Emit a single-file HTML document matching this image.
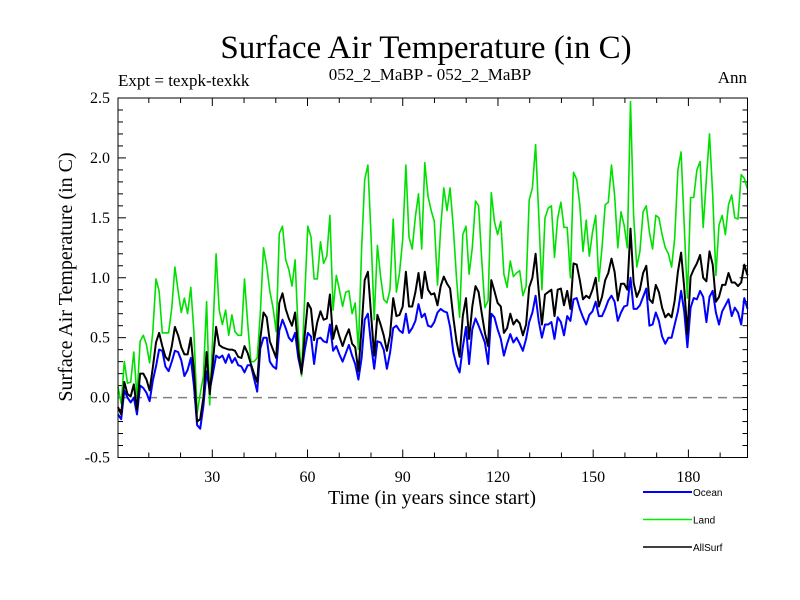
<!DOCTYPE html>
<html><head><meta charset="utf-8"><style>
body{margin:0;background:#fff}
svg{display:block}
text{font-family:"Liberation Serif",serif;fill:#000}
</style></head><body>
<svg id="chart" width="800" height="600" viewBox="0 0 800 600">
<text x="426" y="58" font-size="33" text-anchor="middle">Surface Air Temperature (in C)</text>
<text x="118" y="86" font-size="17">Expt = texpk-texkk</text>
<text x="430" y="80" font-size="17" text-anchor="middle">052_2_MaBP - 052_2_MaBP</text>
<text x="747" y="83" font-size="17" text-anchor="end">Ann</text>
<text transform="translate(72,277) rotate(-90)" font-size="20" text-anchor="middle">Surface Air Temperature (in C)</text>
<text x="432" y="504" font-size="20" text-anchor="middle">Time (in years since start)</text>
<g id="axes"></g>
<g id="series"></g>
<rect x="118" y="98" width="629.5" height="359.5" fill="none" stroke="#000" stroke-width="1"/>
<g id="legend"></g>
</svg>
<script>
const ocean=[-0.14,-0.18,0.06,0.0,-0.04,0.0,-0.14,0.1,0.08,0.04,-0.03,0.14,0.26,0.4,0.39,0.26,0.22,0.3,0.39,0.38,0.31,0.18,0.23,0.33,0.1,-0.23,-0.26,-0.07,0.22,0.06,0.2,0.35,0.33,0.35,0.29,0.36,0.29,0.33,0.27,0.26,0.21,0.27,0.27,0.16,0.05,0.41,0.5,0.5,0.3,0.26,0.24,0.56,0.65,0.58,0.5,0.47,0.54,0.33,0.21,0.39,0.54,0.51,0.28,0.49,0.5,0.47,0.46,0.61,0.39,0.43,0.36,0.3,0.37,0.44,0.35,0.28,0.15,0.33,0.65,0.7,0.44,0.24,0.47,0.46,0.4,0.24,0.37,0.58,0.6,0.56,0.54,0.7,0.54,0.58,0.64,0.78,0.67,0.7,0.6,0.59,0.63,0.71,0.74,0.72,0.71,0.59,0.38,0.27,0.21,0.42,0.59,0.28,0.57,0.66,0.6,0.53,0.46,0.28,0.7,0.67,0.57,0.49,0.35,0.45,0.53,0.46,0.5,0.45,0.39,0.49,0.63,0.71,0.85,0.64,0.5,0.61,0.61,0.63,0.49,0.67,0.63,0.52,0.68,0.64,0.82,0.83,0.74,0.67,0.61,0.69,0.72,0.8,0.68,0.68,0.74,0.81,0.85,0.8,0.64,0.71,0.76,0.77,1.0,0.74,0.74,0.77,0.84,0.91,0.6,0.61,0.71,0.64,0.51,0.45,0.5,0.5,0.61,0.72,0.89,0.72,0.42,0.75,0.83,0.82,0.89,0.84,0.63,0.84,0.89,0.71,0.61,0.72,0.77,0.82,0.68,0.75,0.71,0.61,0.83,0.74];
const land=[0.09,-0.05,0.3,0.12,0.13,0.38,0.0,0.47,0.52,0.44,0.29,0.55,0.99,0.89,0.54,0.54,0.54,0.75,1.09,0.89,0.71,0.83,0.7,0.92,0.55,-0.13,0.03,0.18,0.8,-0.06,0.55,1.2,0.73,0.61,0.73,0.52,0.69,0.55,0.52,0.52,0.99,0.62,0.3,0.3,0.33,0.7,1.25,1.1,0.89,0.75,0.55,1.37,1.43,1.15,1.07,0.93,1.15,0.53,0.18,0.82,1.43,1.34,0.99,0.99,1.3,1.12,1.18,1.52,0.73,1.02,0.9,0.76,0.88,0.89,0.7,0.79,0.4,1.24,1.82,1.94,1.34,0.65,1.27,1.01,0.82,0.79,0.9,1.49,0.88,1.04,1.32,1.94,1.34,1.24,1.51,1.7,1.24,1.96,1.68,1.56,1.47,0.94,1.42,1.75,1.56,1.75,1.42,1.0,0.67,1.36,1.43,1.03,1.25,1.64,1.6,1.14,0.75,0.81,1.71,1.47,1.36,1.47,1.03,0.92,1.14,1.01,1.04,1.06,0.85,0.93,1.65,1.75,2.11,1.53,0.9,1.5,1.58,1.6,1.17,1.5,1.63,1.42,1.42,1.0,1.88,1.82,1.61,1.22,1.48,1.18,1.38,1.52,0.97,1.25,1.61,1.63,1.94,1.69,1.25,1.55,1.44,1.25,2.47,1.52,1.09,1.22,1.55,1.6,1.38,1.24,1.52,1.5,1.36,1.25,1.2,1.09,1.33,1.9,2.05,1.44,0.83,1.67,1.67,1.9,1.97,1.42,1.83,2.2,1.69,1.02,1.44,1.52,1.36,1.61,1.69,1.5,1.49,1.86,1.83,1.74];
const allsurf=[-0.08,-0.14,0.13,0.03,0.01,0.11,-0.1,0.2,0.2,0.15,0.06,0.25,0.46,0.54,0.43,0.34,0.31,0.43,0.59,0.52,0.42,0.36,0.36,0.5,0.23,-0.2,-0.18,0.0,0.38,0.03,0.3,0.59,0.44,0.42,0.41,0.4,0.4,0.39,0.34,0.33,0.43,0.37,0.28,0.2,0.13,0.49,0.71,0.67,0.47,0.4,0.33,0.79,0.87,0.74,0.66,0.6,0.71,0.39,0.2,0.51,0.79,0.74,0.48,0.63,0.72,0.65,0.66,0.86,0.49,0.6,0.51,0.43,0.51,0.57,0.45,0.42,0.22,0.58,0.98,1.05,0.69,0.35,0.69,0.61,0.52,0.39,0.52,0.83,0.68,0.69,0.76,1.05,0.76,0.76,0.88,1.04,0.83,1.05,0.9,0.86,0.87,0.77,0.93,1.01,0.95,0.91,0.67,0.47,0.34,0.68,0.83,0.49,0.76,0.93,0.88,0.7,0.54,0.43,0.98,0.89,0.79,0.76,0.54,0.58,0.7,0.61,0.65,0.62,0.52,0.61,0.92,1.0,1.2,0.89,0.61,0.86,0.88,0.9,0.68,0.9,0.91,0.77,0.89,0.74,1.12,1.11,0.98,0.82,0.85,0.83,0.9,1.0,0.76,0.84,0.98,1.04,1.16,1.05,0.81,0.95,0.95,0.9,1.41,0.96,0.84,0.9,1.04,1.1,0.82,0.79,0.94,0.88,0.75,0.67,0.7,0.67,0.81,1.05,1.21,0.92,0.53,1.01,1.07,1.12,1.19,1.0,0.97,1.22,1.11,0.8,0.84,0.94,0.94,1.04,0.96,0.96,0.93,0.96,1.11,1.02];
const xTickLabels=[30,60,90,120,150,180];
const yTickLabels=[-0.5,0.0,0.5,1.0,1.5,2.0,2.5];
const seriesNames=["Ocean","Land","AllSurf"];

const NS="http://www.w3.org/2000/svg";
const L=118,R=747.5,T=98,B=457.5;
const X0=212.3,XS=3.174;
function xAxis(yr){return X0+(yr-30)*XS;}
function xData(i,n){return L+(R-L)*i/(n-1);}
function yAxis(v){return B-(v+0.5)*(B-T)/3;}
function mk(tag,attrs,parent){const e=document.createElementNS(NS,tag);for(const k in attrs)e.setAttribute(k,attrs[k]);parent.appendChild(e);return e;}

const axes=document.getElementById('axes');
for(let yr=10;yr<=190;yr+=10){
  const x=xAxis(yr); if(x<=L||x>=R)continue;
  const len=(yr%30===0)?8:5;
  const t1=mk('line',{x1:x,y1:B,x2:x,y2:B-len,stroke:'#000','stroke-width':1},axes);
  
  
  const t2=mk('line',{x1:x,y1:T,x2:x,y2:T+len,stroke:'#000','stroke-width':1},axes);
  
  
}
xTickLabels.forEach(v=>{
  const t=mk('text',{x:xAxis(v),y:482,'font-size':16,'text-anchor':'middle'},axes);
  t.textContent=v;
  
  
});
for(let k=-5;k<=25;k++){
  const v=k/10,y=yAxis(v);
  const len=(k%5===0)?8:5;
  const a=mk('line',{x1:L,y1:y,x2:L+len,y2:y,stroke:'#000','stroke-width':1},axes);
  
  
  const b=mk('line',{x1:R,y1:y,x2:R-len,y2:y,stroke:'#000','stroke-width':1},axes);
  
  
}
yTickLabels.forEach(v=>{
  const t=mk('text',{x:110,y:yAxis(v)+5,'font-size':16,'text-anchor':'end'},axes);
  t.textContent=v.toFixed(1);
  
  
});
const zl=mk('line',{x1:L,y1:yAxis(0),x2:R,y2:yAxis(0),stroke:'#808080','stroke-width':1.5,'stroke-dasharray':'9,6'},axes);



const sg=document.getElementById('series');
function drawSeries(vals,color,w,name){
  const pts=vals.map((v,i)=>xData(i,vals.length).toFixed(1)+','+yAxis(v).toFixed(1)).join(' ');
  const p=mk('polyline',{points:pts,fill:'none',stroke:color,'stroke-width':w,'stroke-linejoin':'round'},sg);
  
  
}
drawSeries(land,'#00e000',1.6,'land-line');
drawSeries(ocean,'#0000ff',2,'ocean-line');
drawSeries(allsurf,'#000000',2,'allsurf-line');

const lg=document.getElementById('legend');
const legColors=['#0000ff','#00ee00','#000000'];
const legW=[2,1.5,1.5];
seriesNames.forEach((n,i)=>{
  const y=492+i*27.5;
  const l=mk('line',{x1:643,y1:y,x2:692,y2:y,stroke:legColors[i],'stroke-width':legW[i]},lg);
  
  
  const t=mk('text',{x:693,y:y+4,'font-size':10,style:'font-family:"Liberation Sans",sans-serif'},lg);
  t.textContent=n;
  
  
});
</script>
</body></html>
